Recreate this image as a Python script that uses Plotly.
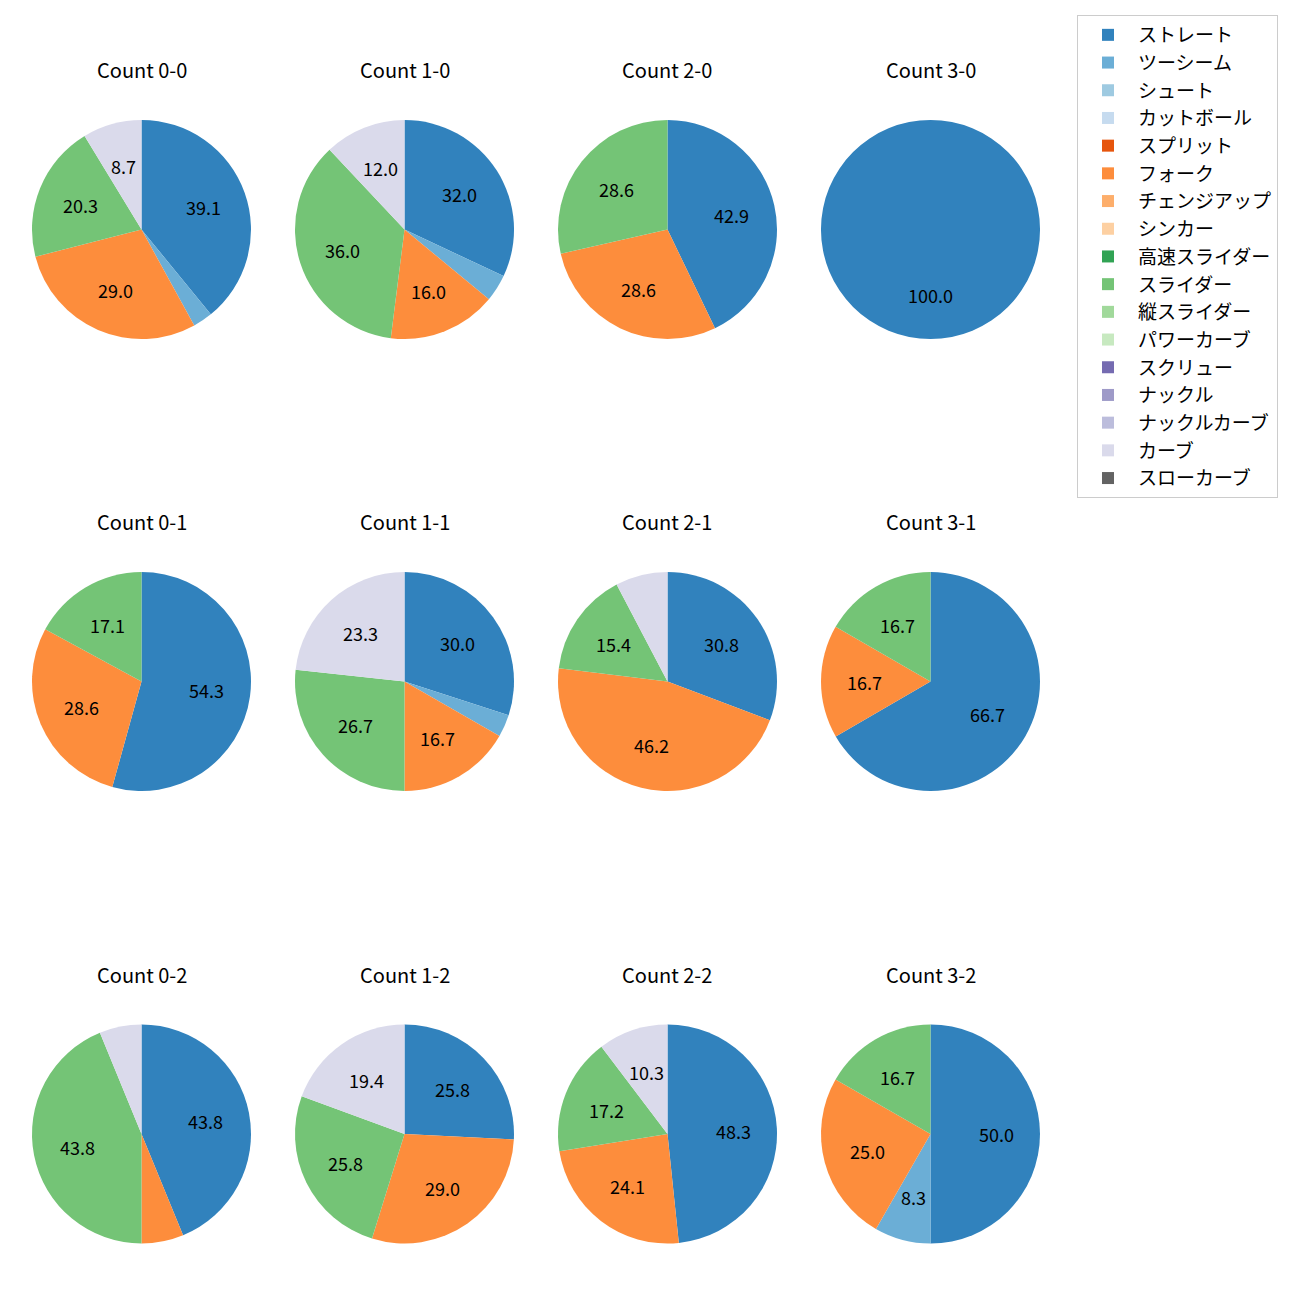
import math
import plotly.graph_objects as go

# ---- data ----
pitch_types = ["ストレート", "ツーシーム", "シュート", "カットボール", "スプリット", "フォーク",
               "チェンジアップ", "シンカー", "高速スライダー", "スライダー", "縦スライダー",
               "パワーカーブ", "スクリュー", "ナックル", "ナックルカーブ", "カーブ", "スローカーブ"]
pitch_colors = ["#3182bd", "#6baed6", "#9ecae1", "#c6dbef", "#e6550d", "#fd8d3c",
                "#fdae6b", "#fdd0a2", "#31a354", "#74c476", "#a1d99b",
                "#c7e9c0", "#756bb1", "#9e9ac8", "#bcbddc", "#dadaeb", "#636363"]
counts = ["0-0", "1-0", "2-0", "3-0", "0-1", "1-1", "2-1", "3-1", "0-2", "1-2", "2-2", "3-2"]

straight = [39.1, 32.0, 42.9, 100.0, 54.3, 30.0, 30.8, 66.7, 43.8, 25.8, 48.3, 50.0]
twoseam  = [2.9, 4.0, 0, 0, 0, 3.3, 0, 0, 0, 0, 0, 8.3]
fork     = [29.0, 16.0, 28.6, 0, 28.6, 16.7, 46.2, 16.7, 6.2, 29.0, 24.1, 25.0]
slider   = [20.3, 36.0, 28.6, 0, 17.1, 26.7, 15.4, 16.7, 43.8, 25.8, 17.2, 16.7]
curve    = [8.7, 12.0, 0, 0, 0, 23.3, 7.7, 0, 6.2, 19.4, 10.3, 0]

series = {"ストレート": straight, "ツーシーム": twoseam, "フォーク": fork,
          "スライダー": slider, "カーブ": curve}

# ---- layout ----
W = H = 1300
FONT = "Noto Sans CJK JP"
col_cx = [141.5, 404.5, 667.5, 930.5]
row_cy = [229.5, 681.5, 1134.0]
R = 109.5
LABEL_MIN = 8.0

fig = go.Figure()
annotations = []
for i, cnt in enumerate(counts):
    r, c = divmod(i, 4)
    cx, cy = col_cx[c], row_cy[r]
    vals = [series[p][i] if p in series else 0 for p in pitch_types]
    fig.add_trace(go.Pie(
        labels=pitch_types, values=vals, sort=False, direction="clockwise", rotation=0,
        marker=dict(colors=pitch_colors, line=dict(width=0)),
        textinfo="none", hoverinfo="label+value",
        domain=dict(x=[(cx - R) / W, (cx + R) / W], y=[1 - (cy + R) / H, 1 - (cy - R) / H]),
        showlegend=True,
    ))
    total = sum(vals)
    cum = 0.0
    for v in vals:
        if v > 0 and v >= LABEL_MIN:
            mid = (cum + v / 2) / total * 2 * math.pi
            x = cx + 0.6 * R * math.sin(mid)
            y = cy - 0.6 * R * math.cos(mid)
            annotations.append(dict(x=x / W, y=1 - y / H, xref="paper", yref="paper",
                                    text=f"{v:.1f}", showarrow=False,
                                    xanchor="center", yanchor="middle",
                                    font=dict(family=FONT, size=18, color="black")))
        cum += v
    annotations.append(dict(x=cx / W, y=1 - (cy - 160) / H, xref="paper", yref="paper",
                            text=f"Count {cnt}", showarrow=False,
                            xanchor="center", yanchor="middle",
                            font=dict(family=FONT, size=20, color="black")))

fig.update_layout(
    width=W, height=H, margin=dict(l=0, r=0, t=0, b=0),
    paper_bgcolor="white", plot_bgcolor="white",
    font=dict(family=FONT, color="black"),
    annotations=annotations,
    legend=dict(x=1077 / W, y=1 - 15 / H, xanchor="left", yanchor="top",
                font=dict(family=FONT, size=19, color="black"),
                bordercolor="#cccccc", borderwidth=1, bgcolor="white",
                itemwidth=50, traceorder="normal"),
)
fig.write_html("out.html")
